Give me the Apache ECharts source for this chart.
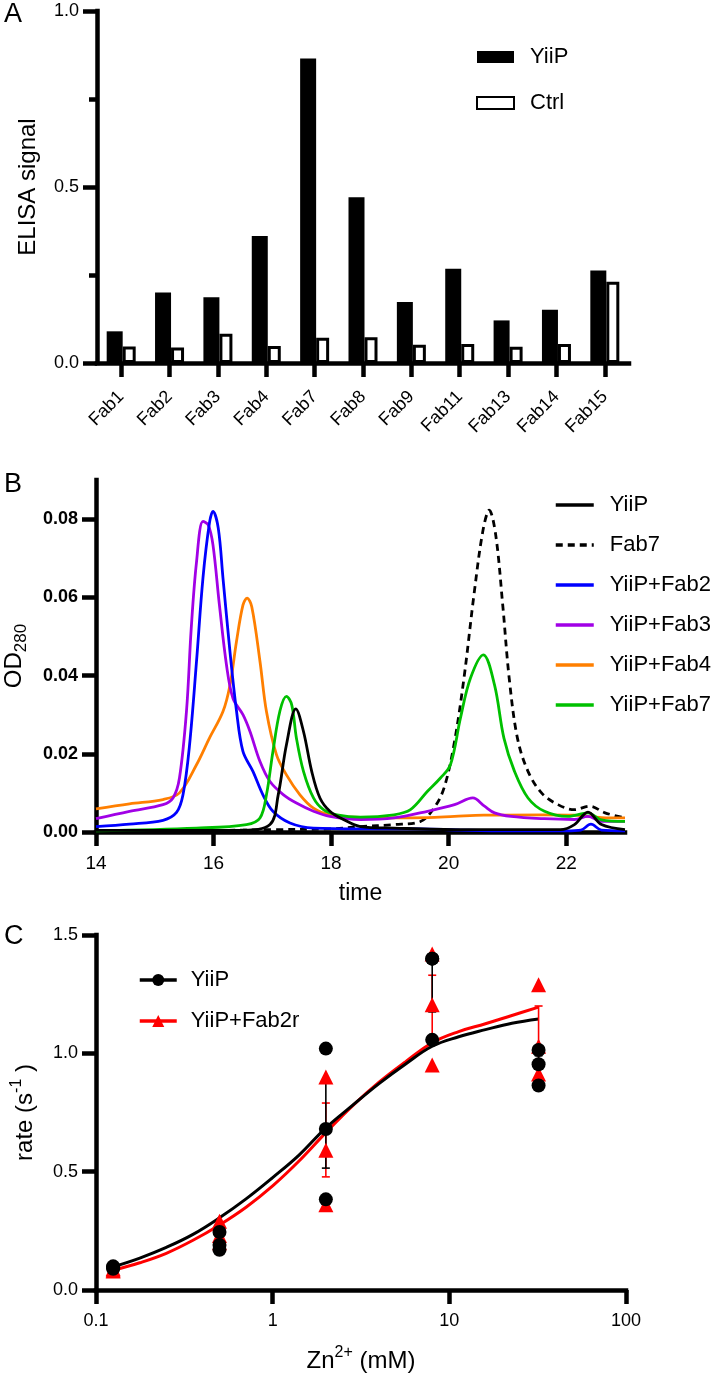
<!DOCTYPE html>
<html><head><meta charset="utf-8">
<script src="https://cdn.jsdelivr.net/npm/echarts@6/dist/echarts.min.js"></script>
<style>html,body{margin:0;padding:0;background:#fff}#c{width:720px;height:1376px}</style>
</head><body><div id="c"></div>
<script>
const FONT = '"Liberation Sans", Arial, sans-serif';

// ---------- Panel A : ELISA ----------
const fabNames = ['Fab1','Fab2','Fab3','Fab4','Fab7','Fab8','Fab9','Fab11','Fab13','Fab14','Fab15'];
const elisaYiiP = [0.090,0.200,0.187,0.361,0.865,0.471,0.173,0.268,0.121,0.151,0.263];
const elisaCtrl = [0.047,0.044,0.083,0.048,0.072,0.073,0.052,0.054,0.046,0.054,0.231];

// ---------- Panel B : SEC traces [time, OD280] ----------
const timeTicks = [14,16,18,20,22];
const odTicks = [0,0.02,0.04,0.06,0.08];
const traceYiiP = [[14,0.0004],[16.5,0.0005],[16.96,0.0019],[17.10,0.0095],[17.24,0.0223],[17.40,0.0315],[17.53,0.0257],[17.67,0.0155],[17.81,0.0087],[17.98,0.0053],[18.21,0.0032],[18.5,0.0014],[19.07,0.0010],[20.2,0.0006],[21.9,0.0006],[22.14,0.0019],[22.37,0.0051],[22.6,0.0019],[23,0.0006]];
const traceFab7 = [[14,0.0003],[16,0.0004],[17,0.0006],[18,0.0008],[18.5,0.0014],[19.07,0.0019],[19.52,0.0027],[19.75,0.0061],[19.92,0.0112],[20.09,0.0223],[20.26,0.0393],[20.43,0.0606],[20.58,0.0768],[20.69,0.0823],[20.80,0.0760],[20.92,0.0580],[21.03,0.0393],[21.17,0.0240],[21.35,0.0155],[21.58,0.0100],[21.86,0.0070],[22.14,0.0057],[22.40,0.0066],[22.66,0.0049],[23,0.0036]];
const traceFab2 = [[14,0.0014],[14.57,0.0020],[15.14,0.0030],[15.37,0.0050],[15.48,0.0095],[15.59,0.0220],[15.71,0.0436],[15.82,0.0650],[15.93,0.0790],[15.99,0.0820],[16.08,0.0777],[16.16,0.0650],[16.28,0.0460],[16.39,0.0310],[16.50,0.0206],[16.67,0.0155],[16.84,0.0095],[17.01,0.0053],[17.30,0.0023],[17.70,0.0010],[18.5,0.0008],[19.5,0.0008],[20.2,0.0005],[21,0.0003],[22,0.0003],[22.25,0.0005],[22.42,0.0020],[22.6,0.0005],[23,0.0003]];
const traceFab3 = [[14,0.0034],[14.57,0.0053],[15.14,0.0070],[15.31,0.0087],[15.42,0.0138],[15.54,0.0310],[15.62,0.0520],[15.71,0.0690],[15.82,0.0794],[15.91,0.0785],[15.99,0.0734],[16.10,0.0580],[16.22,0.0427],[16.33,0.0342],[16.50,0.0300],[16.62,0.0257],[16.79,0.0180],[16.96,0.0129],[17.19,0.0095],[17.41,0.0074],[17.70,0.0053],[17.98,0.0040],[18.5,0.0032],[19.07,0.0036],[19.64,0.0053],[20.10,0.0070],[20.41,0.0087],[20.61,0.0066],[20.78,0.0049],[21.06,0.0040],[21.63,0.0034],[22.14,0.0032],[22.37,0.0040],[22.6,0.0027],[23,0.0027]];
const traceFab4 = [[14,0.0059],[14.57,0.0072],[15.14,0.0083],[15.42,0.0100],[15.71,0.0172],[15.93,0.0240],[16.16,0.0308],[16.28,0.0376],[16.39,0.0487],[16.50,0.0580],[16.57,0.0598],[16.65,0.0576],[16.79,0.0436],[16.90,0.0308],[17.07,0.0198],[17.24,0.0146],[17.47,0.0095],[17.70,0.0061],[17.98,0.0044],[18.5,0.0037],[19.07,0.0036],[19.64,0.0037],[20.1,0.0040],[20.6,0.0043],[21.63,0.0044],[22.14,0.0043],[22.6,0.0037],[23,0.0036]];
const traceFab7Complex = [[14,0.0003],[15.71,0.0010],[16.56,0.0019],[16.79,0.0036],[16.90,0.0095],[17.01,0.0206],[17.13,0.0310],[17.24,0.0347],[17.33,0.0325],[17.41,0.0240],[17.53,0.0155],[17.70,0.0087],[17.87,0.0057],[18.10,0.0044],[18.5,0.0038],[19.07,0.0044],[19.35,0.0057],[19.64,0.0104],[19.86,0.0138],[20.03,0.0172],[20.20,0.0291],[20.37,0.0393],[20.59,0.0453],[20.78,0.0376],[20.94,0.0240],[21.12,0.0155],[21.35,0.0087],[21.63,0.0053],[22.03,0.0040],[22.37,0.0049],[22.6,0.0031],[23,0.0027]];

// ---------- Panel C : Zn2+ transport rate ----------
const zincMM = [0.125, 0.5, 2, 8, 32];
const rateYiiP  = [[0.100,0.090,0.095],[0.245,0.190,0.170],[1.020,0.680,0.383],[1.400,1.400,1.057],[1.014,0.954,0.864]];
const rateFab2r = [[0.085,0.080,0.090],[0.290,0.230,0.200],[0.900,0.590,0.360],[1.420,1.205,0.951],[1.290,1.030,0.913]];
const semYiiPLow  = [0.090,0.180,0.515,1.175,0.900];
const semYiiPHigh = [0.100,0.225,0.885,1.400,0.990];
const semFabLow   = [0.080,0.205,0.478,1.060,0.950];
const semFabHigh  = [0.095,0.270,0.790,1.330,1.200];
const fitZinc   = [0.125,0.177,0.25,0.354,0.5,0.707,1,1.41,2,2.83,4,5.66,8,11.3,16,22.6,32];
const fitYiiP   = [0.098,0.135,0.180,0.235,0.305,0.385,0.475,0.570,0.685,0.780,0.872,0.955,1.030,1.070,1.100,1.127,1.145];
const fitFab2r  = [0.083,0.115,0.155,0.210,0.275,0.350,0.440,0.545,0.665,0.778,0.878,0.965,1.045,1.092,1.125,1.160,1.195];

// ---------- helpers ----------
const AXW = 4.5;
const axLine = () => ({show:true, onZero:false, lineStyle:{color:'#000', width:AXW, cap:'square'}});
const tick = (len)=>({show:true, length:len, lineStyle:{color:'#000', width:AXW}});
const noSplit = () => ({show:false});
const strip = n => n.replace(/_.*$/, '');

function scatterPoints(reps){
  const out = [];
  zincMM.forEach((x,i)=>reps[i].forEach(v=>out.push([x,v])));
  return out;
}
function errData(lo, hi){ return zincMM.map((x,i)=>[x, lo[i], hi[i]]); }
function errRender(color){
  return function(params, api){
    const x = api.value(0);
    const pl = api.coord([x, api.value(1)]);
    const ph = api.coord([x, api.value(2)]);
    const w = 4, st = {stroke:color, lineWidth:1.6};
    return {type:'group', children:[
      {type:'line', shape:{x1:pl[0], y1:pl[1], x2:ph[0], y2:ph[1]}, style:st},
      {type:'line', shape:{x1:pl[0]-w, y1:pl[1], x2:pl[0]+w, y2:pl[1]}, style:st},
      {type:'line', shape:{x1:ph[0]-w, y1:ph[1], x2:ph[0]+w, y2:ph[1]}, style:st}
    ]};
  };
}
const zip = (xs, ys) => xs.map((x,i)=>[x, ys[i]]);

function trace(name, data, color, dashed, z){
  return {type:'line', name:name, xAxisIndex:1, yAxisIndex:1, data:data, symbol:'none', showSymbol:false,
    smooth:0.35, z:z, silent:true,
    lineStyle:{color:color, width:2.8, type: dashed ? [7,5] : 'solid'}, itemStyle:{color:color}};
}

const chart = echarts.init(document.getElementById('c'), null, {renderer:'canvas'});
const option = {
  backgroundColor:'#fff',
  animation:false,
  textStyle:{fontFamily:FONT, color:'#000'},
  grid:[
    {left:97, top:11, width:532, height:352, outerBoundsMode:'none', containLabel:false},
    {left:96, top:480, width:529, height:352, outerBoundsMode:'none', containLabel:false},
    {left:96, top:935, width:530, height:355, outerBoundsMode:'none', containLabel:false}
  ],
  xAxis:[
    {gridIndex:0, type:'category', data:fabNames, axisLine:axLine(), axisTick:Object.assign(tick(14),{alignWithLabel:true}),
      splitLine:noSplit(),
      axisLabel:{rotate:45, margin:31, fontSize:18, color:'#000', fontFamily:FONT, interval:0}},
    {gridIndex:1, type:'value', min:14, max:23, axisLine:axLine(), splitLine:noSplit(),
      axisTick:Object.assign(tick(14),{customValues:timeTicks}),
      axisLabel:{customValues:timeTicks, margin:22, fontSize:19, color:'#000', fontFamily:FONT},
      name:'time', nameLocation:'middle', nameGap:50, nameTextStyle:{fontSize:23, color:'#000', fontFamily:FONT}},
    {gridIndex:2, type:'log', logBase:10, min:0.1, max:100, axisLine:axLine(), splitLine:noSplit(),
      minorTick:{show:false}, axisTick:tick(14),
      axisLabel:{margin:22, fontSize:18, color:'#000', fontFamily:FONT},
      name:'Zn{sup|2+} (mM)', nameLocation:'middle', nameGap:55,
      nameTextStyle:{fontSize:24, lineHeight:32, color:'#000', fontFamily:FONT,
        rich:{sup:{fontSize:16, lineHeight:16, verticalAlign:'top', fontFamily:FONT, color:'#000'}}}}
  ],
  yAxis:[
    {gridIndex:0, type:'value', min:0, max:1, interval:0.5, axisLine:axLine(), axisTick:tick(14),
      minorTick:{show:true, splitNumber:2, length:8, lineStyle:{color:'#000', width:AXW}},
      splitLine:noSplit(), minorSplitLine:noSplit(),
      axisLabel:{margin:18, fontSize:18, color:'#000', fontFamily:FONT, formatter:v=>v.toFixed(1)},
      name:'ELISA signal', nameLocation:'middle', nameGap:57, nameTextStyle:{fontSize:24, color:'#000', fontFamily:FONT}},
    {gridIndex:1, type:'value', min:0, max:0.09, axisLine:axLine(), splitLine:noSplit(),
      axisTick:Object.assign(tick(14),{customValues:odTicks}),
      axisLabel:{customValues:odTicks, margin:18, fontSize:18, fontWeight:'bold', color:'#000', fontFamily:FONT, formatter:v=>v.toFixed(2)},
      name:'OD{sub|280}', nameLocation:'middle', nameGap:66,
      nameTextStyle:{fontSize:24, lineHeight:32, color:'#000', fontFamily:FONT,
        rich:{sub:{fontSize:17, lineHeight:17, verticalAlign:'bottom', fontFamily:FONT, color:'#000'}}}},
    {gridIndex:2, type:'value', min:0, max:1.5, interval:0.5, axisLine:axLine(), axisTick:tick(14), splitLine:noSplit(),
      axisLabel:{margin:18, fontSize:18, color:'#000', fontFamily:FONT, formatter:v=>v.toFixed(1)},
      name:'rate (s{sup|-1} )', nameLocation:'middle', nameGap:55,
      nameTextStyle:{fontSize:24, lineHeight:32, color:'#000', fontFamily:FONT,
        rich:{sup:{fontSize:16, lineHeight:16, verticalAlign:'top', fontFamily:FONT, color:'#000'}}}}
  ],
  legend:[
    {left:471, top:41, orient:'vertical', itemWidth:37, itemHeight:12, itemGap:24, selectedMode:false,
      data:['YiiP_A','Ctrl_A'], formatter:strip, icon:'rect',
      textStyle:{fontSize:22, color:'#000', fontFamily:FONT, padding:[0,0,0,11]}},
    {left:549, top:489, orient:'vertical', itemWidth:38, itemHeight:14, itemGap:18, selectedMode:false,
      data:['YiiP_B','Fab7_B','YiiP+Fab2_B','YiiP+Fab3_B','YiiP+Fab4_B','YiiP+Fab7_B'], formatter:strip,
      itemStyle:{opacity:0}, lineStyle:{width:3.5},
      textStyle:{fontSize:22, color:'#000', fontFamily:FONT, padding:[0,0,0,11]}},
    {left:133, top:964, orient:'vertical', itemWidth:37, itemHeight:15, itemGap:19, selectedMode:false,
      data:['YiiP_C','YiiP+Fab2r_C'], formatter:strip, lineStyle:{width:3.5},
      textStyle:{fontSize:22, color:'#000', fontFamily:FONT, padding:[0,0,0,9]}}
  ],
  graphic:[
    {type:'text', left:4, top:1, style:{text:'A', fontSize:27, fontFamily:FONT, fill:'#000'}},
    {type:'text', left:4, top:471, style:{text:'B', fontSize:27, fontFamily:FONT, fill:'#000'}},
    {type:'text', left:4, top:923, style:{text:'C', fontSize:27, fontFamily:FONT, fill:'#000'}}
  ],
  series:[
    {type:'bar', name:'YiiP_A', xAxisIndex:0, yAxisIndex:0, data:elisaYiiP, barWidth:16, barGap:'0%',
      itemStyle:{color:'#000'}, silent:true},
    {type:'bar', name:'Ctrl_A', xAxisIndex:0, yAxisIndex:0, data:elisaCtrl, barWidth:13,
      itemStyle:{color:'#fff', borderColor:'#000', borderWidth:3}, silent:true},

    trace('Fab7_B', traceFab7, '#000', true, 2),
    trace('YiiP+Fab4_B', traceFab4, '#ff7f00', false, 3),
    trace('YiiP+Fab3_B', traceFab3, '#a100e6', false, 4),
    trace('YiiP+Fab2_B', traceFab2, '#0000ff', false, 5),
    trace('YiiP+Fab7_B', traceFab7Complex, '#00c000', false, 6),
    trace('YiiP_B', traceYiiP, '#000', false, 7),

    {type:'line', name:'YiiP_C', xAxisIndex:2, yAxisIndex:2, data:zip(fitZinc, fitYiiP), smooth:0.4,
      symbol:'circle', symbolSize:13, showSymbol:false, silent:true, z:3,
      lineStyle:{color:'#000', width:3}, itemStyle:{color:'#000'}},
    {type:'line', name:'YiiP+Fab2r_C', xAxisIndex:2, yAxisIndex:2, data:zip(fitZinc, fitFab2r), smooth:0.4,
      symbol:'triangle', symbolSize:13, showSymbol:false, silent:true, z:2,
      lineStyle:{color:'#ff0000', width:3}, itemStyle:{color:'#ff0000'}},
    {type:'custom', name:'errFab', xAxisIndex:2, yAxisIndex:2, data:errData(semFabLow, semFabHigh),
      renderItem:errRender('#ff0000'), encode:{x:0, y:[1,2]}, z:4, silent:true},
    {type:'custom', name:'errYiiP', xAxisIndex:2, yAxisIndex:2, data:errData(semYiiPLow, semYiiPHigh),
      renderItem:errRender('#000'), encode:{x:0, y:[1,2]}, z:5, silent:true},
    {type:'scatter', name:'ptsFab', xAxisIndex:2, yAxisIndex:2, data:scatterPoints(rateFab2r),
      symbol:'triangle', symbolSize:15, itemStyle:{color:'#ff0000', opacity:1}, z:6, silent:true},
    {type:'scatter', name:'ptsYiiP', xAxisIndex:2, yAxisIndex:2, data:scatterPoints(rateYiiP),
      symbol:'circle', symbolSize:14, itemStyle:{color:'#000', opacity:1}, z:7, silent:true}
  ]
};
chart.setOption(option);
</script></body></html>
